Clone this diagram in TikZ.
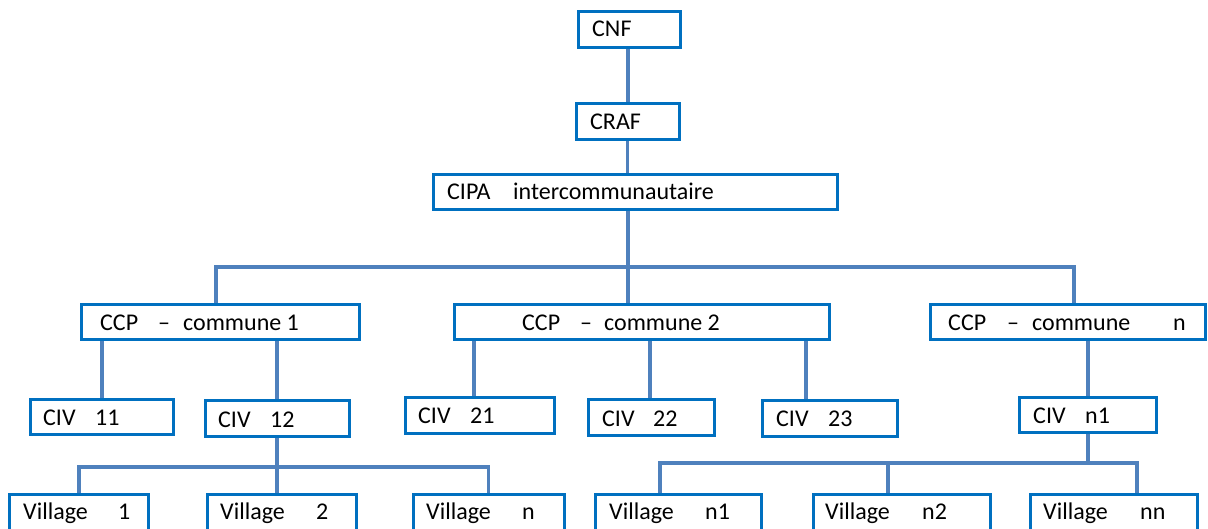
\documentclass[tikz,border=0pt]{standalone}
\usepackage{fontspec}
\setmainfont{Carlito}
\definecolor{boxblue}{RGB}{0,112,192}
\definecolor{linkblue}{RGB}{79,129,189}
\newcommand\mybox[5]{\node[bx, minimum width={#4-#2-3}, minimum height={#5-#3-3}] (#1) at ({(#2+#4)/2},{(#3+#5)/2}) {};}
\newcommand\mytxt[4]{\node[txt] (#1) at (#2,#3) {#4};}
\begin{document}
\begin{tikzpicture}[x=1pt,y=-1pt,
  bx/.style={rectangle, inner sep=0pt, outer sep=0pt},
  txt/.style={anchor=base west, inner sep=0pt, font=\fontsize{24}{28}\selectfont},
  conn/.style={draw=linkblue, line width=3.5pt},
  boxline/.style={draw=boxblue, line width=3pt, fill=white}]
\useasboundingbox (0,0) rectangle (1208,529);
\clip (0,0) rectangle (1208,529);
% box nodes
\mybox{cnf}{577}{10}{682}{49}
\mybox{craf}{575}{102}{681}{141}
\mybox{cipa}{432}{173}{839}{211}
\mybox{ccp1}{80}{303}{361}{341}
\mybox{ccp2}{453}{303}{831}{341}
\mybox{ccpn}{929}{303}{1207}{341}
\mybox{civ11}{29}{398}{175}{436}
\mybox{civ12}{204}{399}{351}{438}
\mybox{civ21}{404}{396}{556}{435}
\mybox{civ22}{587}{398}{716}{437}
\mybox{civ23}{761}{399}{899}{438}
\mybox{civn1}{1018}{396}{1158}{434}
\mybox{v1}{8}{493}{150}{545}
\mybox{v2}{206}{493}{358}{545}
\mybox{vn}{412}{493}{566}{545}
\mybox{vn1}{594}{493}{763}{545}
\mybox{vn2}{812}{493}{992}{545}
\mybox{vnn}{1029}{493}{1199}{545}
% connectors
\coordinate (busA) at (628,267);
\coordinate (busB) at (277,467);
\coordinate (busC) at (1088,463);
\draw[conn] ([xshift=-1.5pt]cnf.south) -- ([xshift=-1.5pt]cnf.south |- craf.north);
\draw[conn] ([xshift=-0.5pt]craf.south) -- ([xshift=-0.5pt]craf.south |- cipa.north);
\draw[conn] (busA |- cipa.south) -- (busA);
\draw[conn] ([xshift=-4.5pt]ccp1.north) |- (busA) -| ([xshift=6pt]ccpn.north);
\draw[conn] (busA) -- (busA |- ccp2.north);
\draw[conn] (civ11.north) -- (civ11.north |- ccp1.south);
\draw[conn] ([xshift=-0.5pt]civ12.north) -- ([xshift=-0.5pt]civ12.north |- ccp1.south);
\draw[conn] ([xshift=-6pt]civ21.north) -- ([xshift=-6pt]civ21.north |- ccp2.south);
\draw[conn] ([xshift=-1.5pt]civ22.north) -- ([xshift=-1.5pt]civ22.north |- ccp2.south);
\draw[conn] ([xshift=-24pt]civ23.north) -- ([xshift=-24pt]civ23.north |- ccp2.south);
\draw[conn] (civn1.north) -- (civn1.north |- ccpn.south);
\draw[conn] (busB |- civ12.south) -- (busB);
\draw[conn] (v1.north) |- (busB) -| ([xshift=-0.5pt]vn.north);
\draw[conn] (busB) -- (busB |- v2.north);
\draw[conn] (busC |- civn1.south) -- (busC);
\draw[conn] ([xshift=-18.5pt]vn1.north) |- (busC) -| ([xshift=23pt]vnn.north);
\draw[conn] ([xshift=-14pt]vn2.north) -- ([xshift=-14pt]vn2.north |- busC);
% box outlines on top of connectors
\foreach \n in {cnf,craf,cipa,ccp1,ccp2,ccpn,civ11,civ12,civ21,civ22,civ23,civn1,v1,v2,vn,vn1,vn2,vnn}
  \draw[boxline] (\n.south west) rectangle (\n.north east);
% texts
\mytxt{tcnf}{592}{37}{CNF}
\mytxt{tcraf}{590}{130}{CRAF}
\mytxt{tcipa}{447}{200}{\makebox[66pt][l]{CIPA}intercommunautaire}
\mytxt{tccp1}{100}{331}{\makebox[58pt][l]{CCP}\makebox[25pt][l]{–}commune 1}
\mytxt{tccp2}{522}{331}{\makebox[58pt][l]{CCP}\makebox[24pt][l]{–}commune 2}
\mytxt{tccpn}{948}{331}{\makebox[59pt][l]{CCP}\makebox[25pt][l]{–}\makebox[141pt][l]{commune}n}
\mytxt{tciv11}{43}{425}{\makebox[52pt][l]{CIV}11}
\mytxt{tciv12}{218}{427}{\makebox[52pt][l]{CIV}12}
\mytxt{tciv21}{418}{424}{\makebox[52pt][l]{CIV}21}
\mytxt{tciv22}{602}{426}{\makebox[51pt][l]{CIV}22}
\mytxt{tciv23}{776}{426}{\makebox[52pt][l]{CIV}23}
\mytxt{tcivn1}{1033}{423}{\makebox[52pt][l]{CIV}n1}
\mytxt{tv1}{23}{519}{\makebox[95pt][l]{Village}1}
\mytxt{tv2}{220}{519}{\makebox[96pt][l]{Village}2}
\mytxt{tvn}{426}{519}{\makebox[96pt][l]{Village}n}
\mytxt{tvn1}{609}{519}{\makebox[96pt][l]{Village}n1}
\mytxt{tvn2}{825}{519}{\makebox[97pt][l]{Village}n2}
\mytxt{tvnn}{1043}{519}{\makebox[97pt][l]{Village}nn}
\end{tikzpicture}
\end{document}
